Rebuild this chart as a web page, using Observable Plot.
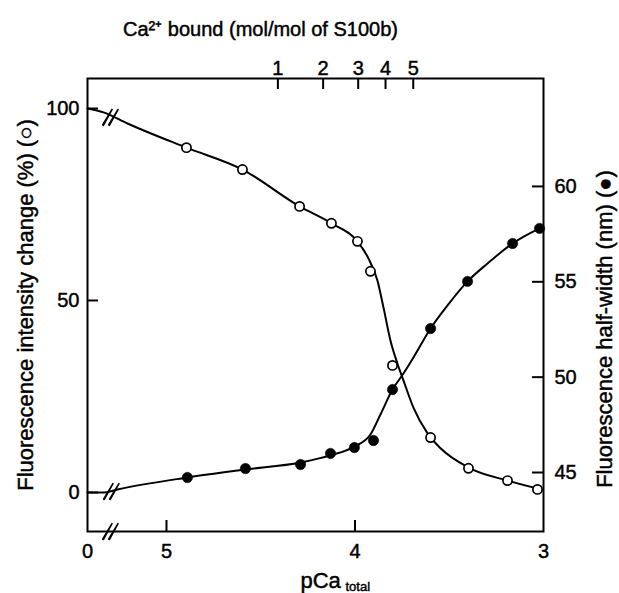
<!DOCTYPE html>
<html><head><meta charset="utf-8">
<script src="https://cdn.jsdelivr.net/npm/d3@7"></script>
<script src="https://cdn.jsdelivr.net/npm/@observablehq/plot@0.6"></script>
<style>html,body{margin:0;padding:0;background:#fff}#chart svg{display:block}#chart svg text{stroke:#000;stroke-width:0.45px}</style>
</head><body><div id="chart"></div>
<script>
// ---- data ----
// open circles: fluorescence intensity change (%), left axis
const openPCa       = [4.894, 4.597, 4.294, 4.125, 3.987, 3.918, 3.801, 3.599, 3.398, 3.191, 3.032];
const openIntensity = [89.8, 84.1, 74.5, 70.1, 65.4, 57.6, 33.1, 14.3, 6.3, 3.1, 0.8];
// filled circles: fluorescence half-width (nm), right axis
const filledPCa       = [4.889, 4.581, 4.289, 4.130, 4.003, 3.902, 3.801, 3.599, 3.403, 3.164, 3.021];
const filledHalfWidth = [44.74, 45.21, 45.42, 46.00, 46.31, 46.68, 49.35, 52.55, 55.02, 57.01, 57.80];
// drawn fitted curves (traced vertices)
const openCurvePCa       = [5.419, 5.334, 5.207, 4.894, 4.597, 4.294, 4.125, 3.987, 3.928, 3.881, 3.849, 3.812, 3.775, 3.743, 3.690, 3.615, 3.546, 3.398, 3.191, 3.011];
const openCurveIntensity = [100.0, 99.0, 96.1, 89.8, 84.1, 74.5, 70.1, 65.4, 60.9, 55.2, 48.2, 39.6, 33.6, 29.2, 22.1, 15.4, 11.5, 6.5, 3.1, 0.8];
const filledCurvePCa       = [5.419, 5.329, 5.260, 4.889, 4.581, 4.289, 4.130, 4.003, 3.918, 3.865, 3.801, 3.743, 3.690, 3.599, 3.509, 3.403, 3.297, 3.164, 3.021];
const filledCurveHalfWidth = [43.95, 43.95, 44.11, 44.74, 45.16, 45.53, 45.90, 46.36, 46.99, 48.04, 49.35, 50.19, 51.03, 52.55, 53.76, 55.02, 55.96, 57.01, 57.80];
// axes
const xDomain = [5.419, 3];           // pCa_total, reversed; left edge is the broken "0"
const yDomain = [-10.16, 107.81];     // left axis units
const bottomTickValues = [5, 4];
const bottomLabelValues = [5.419, 5, 4, 3];
const bottomLabels = ["0", "5", "4", "3"];
const topTickPCa = [4.409, 4.169, 3.983, 3.838, 3.691];
const topTickLabels = ["1", "2", "3", "4", "5"];
const leftTicks = [0, 50, 100];
const rightTicks = [45, 50, 55, 60];
// right axis alignment: half-width 45 nm sits at left-axis 5.2, 60 nm at 79.7
const rightAlign = {r0: 45, l0: 5.2, r1: 60, l1: 79.7};
// axis breaks (pCa, left-axis value)
const breakPCa = [5.297, 5.292, 5.297];
const breakY   = [97.7, 0.26, -10.16];

// ---- build ----
const toLeft = r => rightAlign.l0 + (r - rightAlign.r0) * (rightAlign.l1 - rightAlign.l0) / (rightAlign.r1 - rightAlign.r0);
const openPts = openPCa.map((x, i) => ({x, y: openIntensity[i]}));
const filledPts = filledPCa.map((x, i) => ({x, y: toLeft(filledHalfWidth[i])}));
const openCurve = openCurvePCa.map((x, i) => ({x, y: openCurveIntensity[i]}));
const filledCurve = filledCurvePCa.map((x, i) => ({x, y: toLeft(filledCurveHalfWidth[i])}));
const breaks = breakPCa.map((x, i) => ({x, y: breakY[i]}));
const bottomLabs = bottomLabelValues.map((v, i) => ({v, t: bottomLabels[i]}));
const topLabs = topTickPCa.map((v, i) => ({v, t: topTickLabels[i]}));

const W = 619, H = 593, mL = 87, mR = 76, mT = 78, mB = 62;
const innerW = W - mL - mR, innerH = H - mT - mB;
const tick = 11;

const chart = Plot.plot({
  width: W, height: H,
  marginLeft: mL, marginRight: mR, marginTop: mT, marginBottom: mB,
  style: {fontFamily: "'Liberation Sans', Arial, sans-serif", fontSize: "20px", color: "#000", background: "#fff", overflow: "visible"},
  x: {domain: xDomain, axis: null},
  y: {domain: yDomain, axis: null},
  marks: [
    Plot.frame({stroke: "#000", strokeWidth: 2}),
    // inward ticks
    Plot.tickY(leftTicks, {y: d => d, insetRight: innerW - tick, stroke: "#000", strokeWidth: 2}),
    Plot.tickY(rightTicks, {y: d => toLeft(d), insetLeft: innerW - tick, stroke: "#000", strokeWidth: 2}),
    Plot.tickX(bottomTickValues, {x: d => d, insetTop: innerH - tick, stroke: "#000", strokeWidth: 2}),
    Plot.tickX(topTickPCa, {x: d => d, insetBottom: innerH - tick, stroke: "#000", strokeWidth: 2}),
    // tick labels
    Plot.text(leftTicks, {y: d => d, text: d => String(d), frameAnchor: "left", textAnchor: "end", lineAnchor: "middle", dx: -8}),
    Plot.text(rightTicks, {y: d => toLeft(d), text: d => String(d), frameAnchor: "right", textAnchor: "start", lineAnchor: "middle", dx: 11}),
    Plot.text(bottomLabs, {x: "v", text: "t", frameAnchor: "bottom", lineAnchor: "middle", dy: 20}),
    Plot.text(topLabs, {x: "v", text: "t", frameAnchor: "top", lineAnchor: "middle", dy: -10}),
    // axis titles
    Plot.text(["Ca²⁺ bound (mol/mol of S100b)"], {frameAnchor: "top", textAnchor: "middle", lineAnchor: "middle", dx: -55, dy: -49}),
    Plot.text(["pCa"], {frameAnchor: "bottom", textAnchor: "start", lineAnchor: "middle", dx: -15, dy: 49, fontSize: 22}),
    Plot.text(["total"], {frameAnchor: "bottom", textAnchor: "start", lineAnchor: "middle", dx: 30, dy: 55, fontSize: 13}),
    Plot.text(["Fluorescence intensity change (%) (○)"], {frameAnchor: "left", textAnchor: "middle", lineAnchor: "middle", rotate: -90, dx: -62, dy: 0, fontSize: 22}),
    Plot.text(["Fluorescence half-width (nm) (●)"], {frameAnchor: "right", textAnchor: "middle", lineAnchor: "middle", rotate: -90, dx: 61, dy: 24, fontSize: 22}),
    // curves
    Plot.line(openCurve, {x: "x", y: "y", curve: "monotone-x", stroke: "#000", strokeWidth: 2}),
    Plot.line(filledCurve, {x: "x", y: "y", curve: "monotone-x", stroke: "#000", strokeWidth: 2}),
    // axis-break slashes
    Plot.vector(breaks, {x: "x", y: "y", length: 18, rotate: 30, anchor: "middle", shape: "spike", r: 0.4, dx: -3, stroke: "#000", fill: "#000", strokeWidth: 1.6}),
    Plot.vector(breaks, {x: "x", y: "y", length: 18, rotate: 30, anchor: "middle", shape: "spike", r: 0.4, dx: 3, stroke: "#000", fill: "#000", strokeWidth: 1.6}),
    // points
    Plot.dot(filledPts, {x: "x", y: "y", r: 5.2, fill: "#000", stroke: "#000", strokeWidth: 0.5}),
    Plot.dot(openPts, {x: "x", y: "y", r: 4.6, fill: "#fff", stroke: "#000", strokeWidth: 1.7})
  ]
});
document.getElementById("chart").append(chart);
</script>
</body></html>
